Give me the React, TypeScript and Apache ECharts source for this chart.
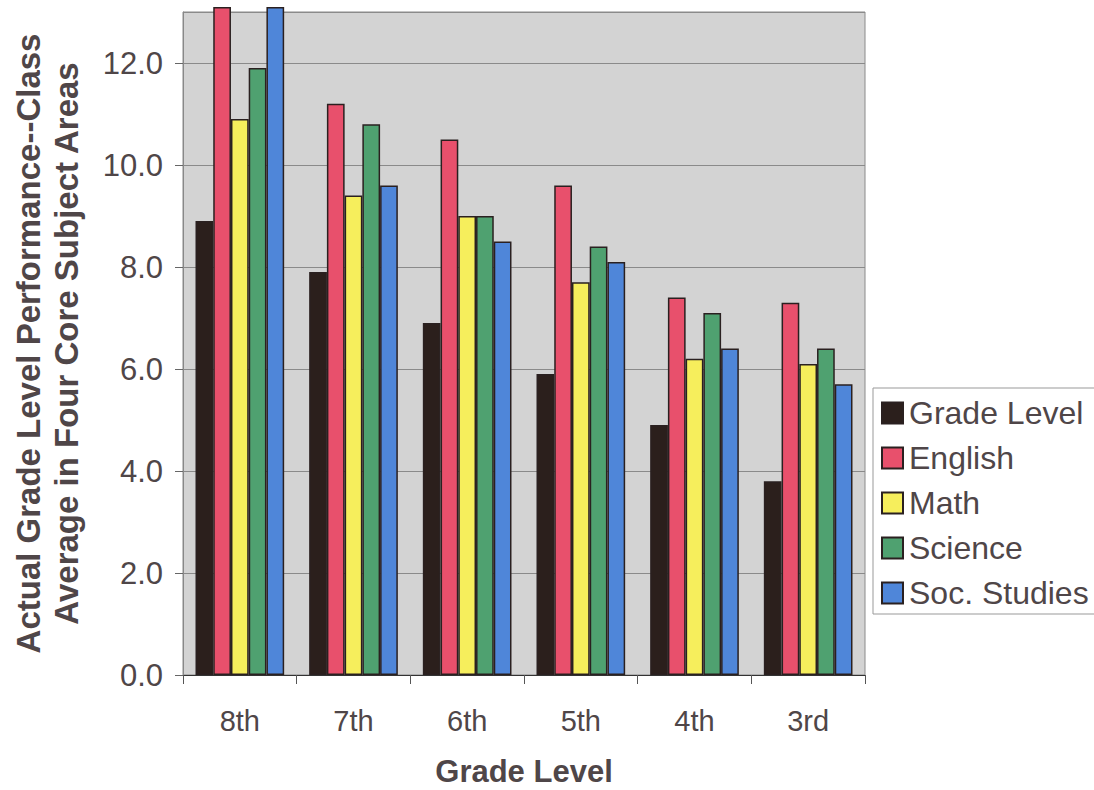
import React, { useEffect, useRef } from "react";
import * as echarts from "echarts";

const categories = ["8th", "7th", "6th", "5th", "4th", "3rd"];
const gradeLevel = [8.9, 7.9, 6.9, 5.9, 4.9, 3.8];
const english = [13.1, 11.2, 10.5, 9.6, 7.4, 7.3];
const math = [10.9, 9.4, 9.0, 7.7, 6.2, 6.1];
const science = [11.9, 10.8, 9.0, 8.4, 7.1, 6.4];
const socStudies = [13.1, 9.6, 8.5, 8.1, 6.4, 5.7];

const seriesNames = ["Grade Level", "English", "Math", "Science", "Soc. Studies"];
const seriesData = [gradeLevel, english, math, science, socStudies];
const seriesColors = ["#2b1f1c", "#e8506c", "#f6ee5c", "#4fa170", "#4f86d9"];

export default function App() {
  const ref = useRef<HTMLDivElement>(null);
  useEffect(() => {
    document.body.style.margin = "0";
    const chart = echarts.init(ref.current!, null, { renderer: "svg" });
    const font = "'Liberation Sans', Arial, sans-serif";
    const textColor = "#4f4648";
    chart.setOption({
      animation: false,
      backgroundColor: "#ffffff",
      textStyle: { fontFamily: font },
      grid: {
        left: 183,
        right: 229,
        top: 12,
        bottom: 115,
        containLabel: false,
        outerBoundsMode: "none",
        show: true,
        backgroundColor: "#d3d3d3",
        borderColor: "#8a8a8a",
        borderWidth: 1,
      },
      legend: {
        orient: "vertical",
        left: 873,
        top: 388,
        backgroundColor: "#ffffff",
        borderColor: "#999999",
        borderWidth: 1,
        padding: [9, 40, 5, 8],
        itemWidth: 21,
        itemHeight: 21,
        itemGap: 13,
        icon: "rect",
        textStyle: { fontSize: 32, color: textColor, fontFamily: font, padding: [0, 0, 0, 1], lineHeight: 30 },
        data: seriesNames,
      },
      xAxis: {
        type: "category",
        data: categories,
        axisLine: { lineStyle: { color: "#333333", width: 1.2 } },
        axisTick: { show: true, alignWithLabel: false, length: 9, lineStyle: { color: "#555555" } },
        axisLabel: { fontSize: 29, color: textColor, margin: 31, fontFamily: font },
        name: "Grade Level",
        nameLocation: "middle",
        nameGap: 80,
        nameTextStyle: { fontSize: 31, lineHeight: 32, fontWeight: "bold", color: textColor, fontFamily: font },
      },
      yAxis: {
        type: "value",
        min: 0,
        max: 13,
        interval: 2,
        axisLine: { show: true, lineStyle: { color: "#888888" } },
        axisTick: { show: true, length: 8, lineStyle: { color: "#666666" } },
        axisLabel: {
          fontSize: 31,
          color: textColor,
          margin: 20,
          fontFamily: font,
          showMaxLabel: false,
          formatter: (v: number) => v.toFixed(1),
        },
        splitLine: { show: true, lineStyle: { color: "#8a8a8a", width: 1 } },
        name: "Actual Grade Level Performance--Class\nAverage in Four Core Subject Areas",
        nameLocation: "middle",
        nameGap: 98,
        nameTextStyle: {
          fontSize: 33,
          fontWeight: "bold",
          color: textColor,
          lineHeight: 38,
          fontFamily: font,
        },
      },
      series: seriesNames.map((name, i) => ({
        name,
        type: "bar",
        data: seriesData[i],
        clip: false,
        barGap: "0%",
        barCategoryGap: "22%",
        itemStyle: { color: seriesColors[i], borderColor: "#2a2020", borderWidth: 1.5 },
      })),
    });
    return () => chart.dispose();
  }, []);
  return <div ref={ref} style={{ position: "absolute", left: 0, top: 0, width: 1094, height: 790 }} />;
}
